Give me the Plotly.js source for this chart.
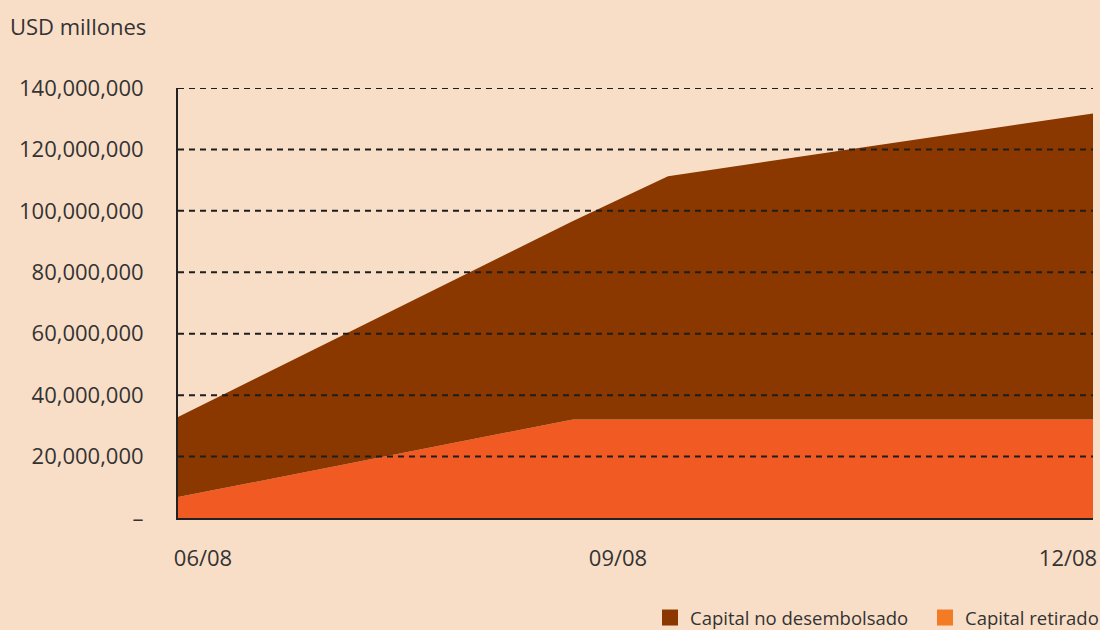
<!DOCTYPE html>
<html>
<head>
<meta charset="utf-8">
<script src="https://cdn.plot.ly/plotly-3.0.1.min.js"></script>
<style>html,body{margin:0;padding:0;background:#f9dec7;}</style>
</head>
<body>
<div id="chart" style="width:1100px;height:630px;"></div>
<script>
// Data (USD)
const dates = ["2008-06-01", "2008-08-19", "2008-09-07", "2008-12-01"];
const capitalRetirado = [6800000, 32100000, 32100000, 32100000];
const capitalNoDesembolsado = [26100000, 64600000, 79200000, 99600000];

const yTickVals = [0, 20000000, 40000000, 60000000, 80000000, 100000000, 120000000, 140000000];
const yTickText = ["–", "20,000,000", "40,000,000", "60,000,000", "80,000,000", "100,000,000", "120,000,000", "140,000,000"];
const xTickVals = ["2008-06-06", "2008-08-28", "2008-11-26"];
const xTickText = ["06/08", "09/08", "12/08"];

const brown = "#8a3800";
const orange = "#f15a22";
const orangeLegend = "#f47b25";
const txt = "#333333";
const font = "'Open Sans', 'Noto Sans', sans-serif";

const traces = [
  {x: dates, y: capitalRetirado, type: "scatter", mode: "none", stackgroup: "one",
   fillcolor: orange, name: "Capital retirado", showlegend: false, hoverinfo: "skip"},
  {x: dates, y: capitalNoDesembolsado, type: "scatter", mode: "none", stackgroup: "one",
   fillcolor: brown, name: "Capital no desembolsado", showlegend: false, hoverinfo: "skip"},
  {x: [null], y: [null], type: "scatter", mode: "markers", name: "Capital no desembolsado",
   marker: {symbol: "square", size: 16, color: brown}},
  {x: [null], y: [null], type: "scatter", mode: "markers", name: "Capital retirado",
   marker: {symbol: "square", size: 16, color: orangeLegend}}
];

// dashed grid lines drawn above the areas, one per y tick (except zero)
const gridShapes = yTickVals.filter(v => v > 0).map(v => ({
  type: "line", xref: "paper", yref: "y", x0: 0, x1: 1, y0: v, y1: v, layer: "above",
  line: {color: "#1e1e1e", width: 2, dash: "6px,5px"}
}));

const layout = {
  width: 1100, height: 630,
  paper_bgcolor: "#f9dec7", plot_bgcolor: "#f9dec7",
  font: {family: font, color: txt, size: 22},
  margin: {l: 178, r: 7, t: 88, b: 112, autoexpand: false},
  title: {text: "USD millones", xref: "container", yref: "container", x: 0.009, xanchor: "left",
          y: 1 - 27/630, yanchor: "middle", font: {family: font, size: 22, color: txt}},
  xaxis: {type: "date", range: ["2008-06-01", "2008-12-01"], tickmode: "array",
          tickvals: xTickVals, ticktext: xTickText, showgrid: false, zeroline: false,
          showline: true, linecolor: "#222", linewidth: 2, layer: "above traces",
          ticks: "outside", ticklen: 20, tickcolor: "rgba(0,0,0,0)",
          tickfont: {family: font, size: 22, color: txt}},
  yaxis: {range: [0, 140000000], tickmode: "array", tickvals: yTickVals, ticktext: yTickText,
          showgrid: false, zeroline: false, showline: true, linecolor: "#222", linewidth: 2,
          layer: "above traces",
          ticks: "outside", ticklen: 28, tickcolor: "rgba(0,0,0,0)",
          tickfont: {family: font, size: 22, color: txt}},
  shapes: gridShapes,
  legend: {orientation: "h", xref: "container", yref: "container", x: 650/1100, xanchor: "left",
           y: 1 - 618/630, yanchor: "middle", entrywidth: 230,
           font: {family: font, size: 18.5, color: txt}, bgcolor: "rgba(0,0,0,0)",
           itemwidth: 30, traceorder: "normal"},
  showlegend: true
};

Plotly.newPlot("chart", traces, layout, {displayModeBar: false, staticPlot: true});
</script>
</body>
</html>
